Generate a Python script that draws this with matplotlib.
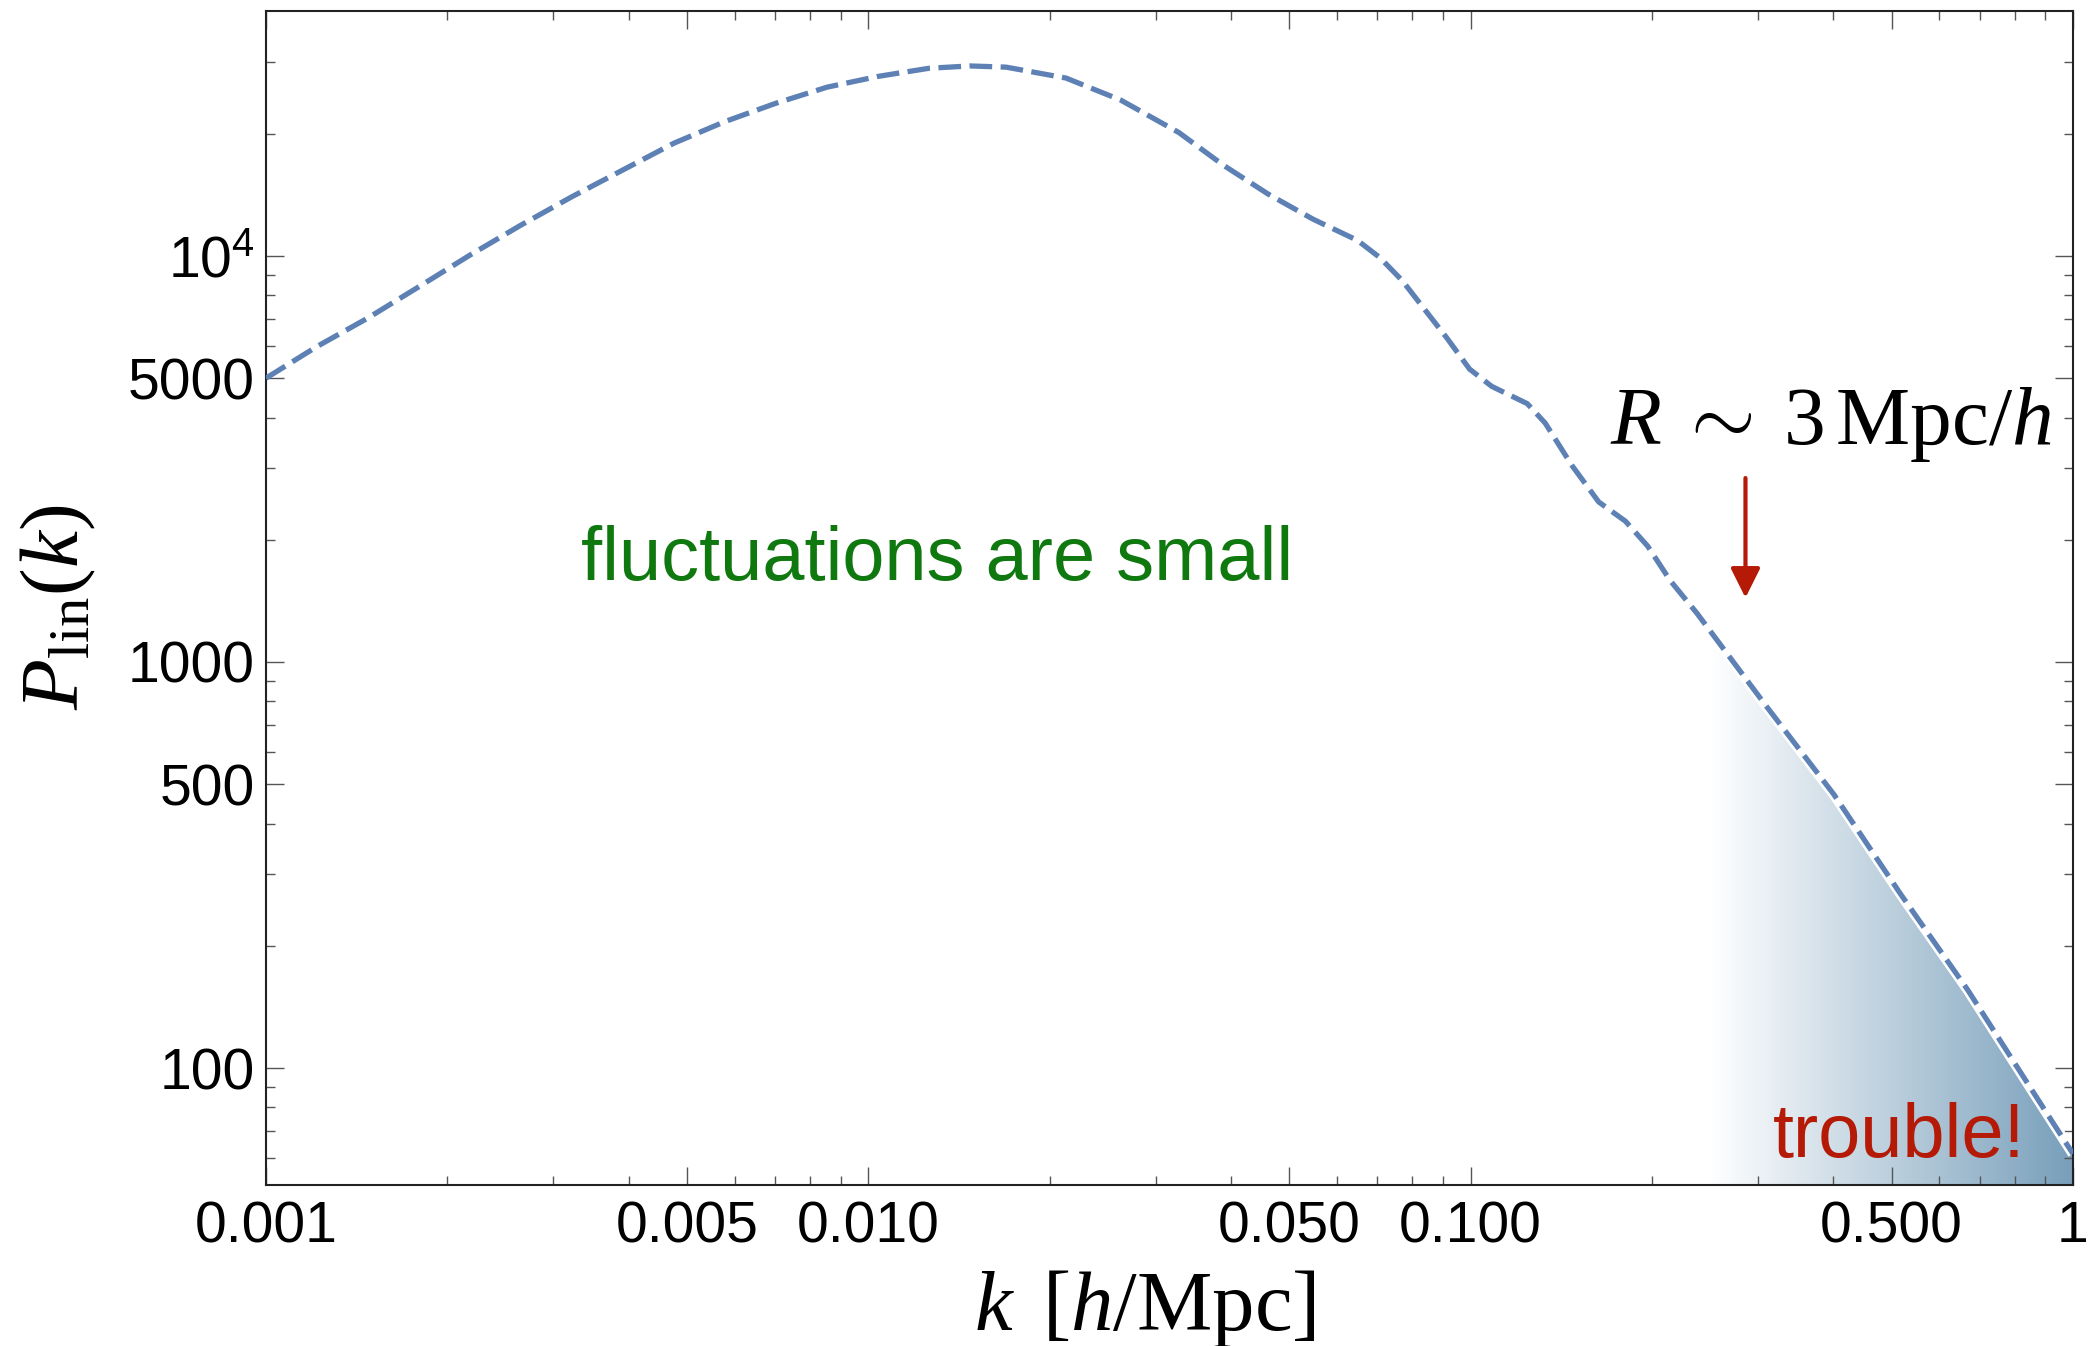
import numpy as np
import matplotlib
matplotlib.use("Agg")
import matplotlib.pyplot as plt
from matplotlib.colors import LinearSegmentedColormap
from matplotlib.ticker import FixedLocator, FixedFormatter, NullFormatter

plt.rcParams['font.family'] = ['Liberation Sans', 'DejaVu Sans']
plt.rcParams['mathtext.fontset'] = 'custom'
plt.rcParams['mathtext.rm'] = 'Liberation Serif'
plt.rcParams['mathtext.it'] = 'Liberation Serif:italic'
plt.rcParams['mathtext.sf'] = 'Liberation Sans'

# linear matter power spectrum, k in h/Mpc
k = [0.001, 0.001216, 0.001476, 0.001795, 0.002182, 0.002651, 0.003221,
     0.003916, 0.00476, 0.005784, 0.00703, 0.008544, 0.01038, 0.01262,
     0.01476, 0.01694, 0.0213, 0.02624, 0.03279, 0.03891, 0.04616, 0.05474,
     0.06491, 0.07073, 0.07703, 0.08391, 0.0914, 0.0996, 0.1084, 0.1242,
     0.133, 0.1473, 0.1632, 0.1808, 0.1968, 0.2146, 0.2376, 0.3112, 0.4013,
     0.5176, 0.6683, 0.8623, 1.0]
P_lin = [5000, 5985, 7030, 8400, 10050, 11910, 13990,
         16290, 18960, 21430, 23780, 26040, 27680, 28990,
         29370, 29170, 27420, 24210, 20130, 16710, 14190, 12320,
         10920, 9900, 8690, 7380, 6270, 5265, 4773, 4327,
         3876, 3048, 2478, 2221, 1929, 1585, 1318, 771, 471,
         268, 156, 86.5, 61.5]

xticks = [0.001, 0.005, 0.01, 0.05, 0.1, 0.5, 1]
xticklabels = ['0.001', '0.005', '0.010', '0.050', '0.100', '0.500', '1']
yticks = [100, 500, 1000, 5000, 10000]
yticklabels = ['100', '500', '1000', '5000', r'$\mathsf{10^{4}}$']

k_R = 0.286          # k for R ~ 3 Mpc/h
k_trouble = 0.25     # where the shading starts

xlim = (0.001, 1.0)
ylim = (51.5, 40100)

line_col = '#5e81b5'
green = '#0f780f'
red = '#b51a06'

k = np.array(k)
P_lin = np.array(P_lin)

fig = plt.figure(figsize=(20.89, 13.46), dpi=100)
ax = fig.add_axes([0.1273, 0.1196, 0.9923 - 0.1273, 0.9918 - 0.1196])
ax.set_xscale('log')
ax.set_yscale('log')

# shaded region under the curve, fading in from the left
mask = k >= 0.2
shade = ax.fill_between(k[mask], P_lin[mask], ylim[0], facecolor='none',
                        edgecolor='none')
cmap = LinearSegmentedColormap.from_list('fade', ['#ffffff', '#789fbb'])
grad = np.linspace(0, 1, 512).reshape(1, -1)
x0 = (np.log10(k_trouble) - np.log10(xlim[0])) / (np.log10(xlim[1]) - np.log10(xlim[0]))
im = ax.imshow(grad, extent=[x0, 1, 0, 1], transform=ax.transAxes, cmap=cmap,
               aspect='auto', interpolation='bilinear', zorder=1)
im.set_clip_path(shade.get_paths()[0], transform=ax.transData)

ax.plot(k[mask], P_lin[mask], color='white', lw=7.5, solid_capstyle='butt', zorder=2)
ax.plot(k, P_lin, color=line_col, lw=3.8, ls=(0, (4.3, 1.6)), zorder=3)

ax.set_xlim(*xlim)
ax.set_ylim(*ylim)
ax.autoscale(False)

minor_x = [m * d for d in (1e-3, 1e-2, 1e-1) for m in (2, 3, 4, 6, 7, 8, 9)]
minor_y = [60, 70, 80, 90, 200, 300, 400, 600, 700, 800, 900,
           2000, 3000, 4000, 6000, 7000, 8000, 9000, 20000, 30000]
ax.xaxis.set_major_locator(FixedLocator(xticks))
ax.xaxis.set_major_formatter(FixedFormatter(xticklabels))
ax.xaxis.set_minor_locator(FixedLocator(minor_x))
ax.xaxis.set_minor_formatter(NullFormatter())
ax.yaxis.set_major_locator(FixedLocator(yticks))
ax.yaxis.set_major_formatter(FixedFormatter(yticklabels))
ax.yaxis.set_minor_locator(FixedLocator(minor_y))
ax.yaxis.set_minor_formatter(NullFormatter())

ax.tick_params(which='both', direction='in', top=True, right=True,
               color='#555555', width=1.0, labelsize=41)
ax.tick_params(which='major', length=13)
ax.tick_params(which='minor', length=6.5)
ax.tick_params(axis='x', pad=11)
ax.tick_params(axis='y', pad=8)
for s in ax.spines.values():
    s.set_linewidth(1.5)
    s.set_color('#222222')

ax.text(0.0130, 1592, 'fluctuations are small', color=green, fontsize=54.5,
        ha='center', va='baseline')
ax.text(0.835, 60.4, 'trouble!', color=red, fontsize=54.5,
        ha='right', va='baseline', zorder=4)
ax.text(0.1702, 3442, r'$R\;\sim\;3\,\mathrm{Mpc}/h$', fontsize=60,
        ha='left', va='baseline')
ax.annotate('', xy=(k_R, 1439), xytext=(k_R, 2838),
            arrowprops=dict(arrowstyle='-|>,head_length=1.8,head_width=0.9',
                            mutation_scale=10, color=red, lw=3,
                            shrinkA=0, shrinkB=0))

fig.text(1145 / 2089, 1 - 1330 / 1346, r'$k\ \,[h/\mathrm{Mpc}]$', fontsize=61,
         ha='center', va='baseline')
fig.text(58 / 2089, 1 - 607 / 1346, r'$P_{\mathrm{lin}}(k)$', fontsize=60,
         ha='center', va='center', rotation=90)

fig.savefig('out.png', dpi=100)
